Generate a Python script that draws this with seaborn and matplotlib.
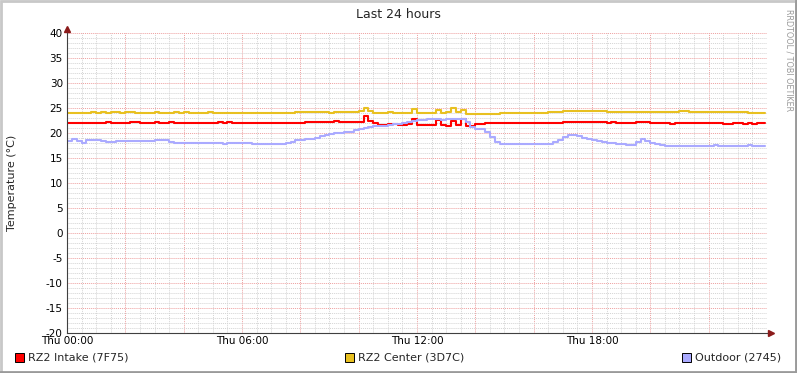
import numpy as np
import pandas as pd
import matplotlib
matplotlib.use("Agg")
import matplotlib.pyplot as plt
from matplotlib.patches import Rectangle
import seaborn as sns

# samples every 10 minutes over 24 hours (Thu 00:00 .. Thu 23:50)
sample_minutes = list(range(0, 1440, 10))

intake = [
    22.0, 22.0, 22.0, 22.0, 22.0, 22.0, 22.0, 22.0, 22.2, 22.0, 22.0, 22.0,
    22.0, 22.2, 22.2, 22.0, 22.0, 22.0, 22.2, 22.0, 22.0, 22.2, 22.0, 22.0,
    22.0, 22.0, 22.0, 22.0, 22.0, 22.0, 22.0, 22.2, 22.0, 22.2, 22.0, 22.0,
    22.0, 22.0, 22.0, 22.0, 22.0, 22.0, 22.0, 22.0, 22.0, 22.0, 22.0, 22.0,
    22.0, 22.2, 22.2, 22.2, 22.2, 22.2, 22.2, 22.4, 22.2, 22.2, 22.2, 22.2,
    22.2, 23.4, 22.5, 22.1, 21.7, 21.7, 21.9, 21.9, 21.7, 21.6, 21.9, 22.8,
    21.7, 21.7, 21.6, 21.7, 22.6, 21.6, 21.5, 22.4, 21.7, 22.8, 21.5, 21.5,
    21.8, 21.8, 22.0, 22.0, 22.0, 22.0, 22.0, 22.0, 22.0, 22.0, 22.0, 22.0,
    22.0, 22.0, 22.0, 22.0, 22.0, 22.0, 22.2, 22.2, 22.2, 22.2, 22.2, 22.2,
    22.2, 22.2, 22.2, 22.0, 22.2, 22.0, 22.0, 22.0, 22.0, 22.2, 22.3, 22.2,
    22.0, 22.0, 22.0, 22.0, 21.8, 22.0, 22.0, 22.0, 22.0, 22.0, 22.0, 22.0,
    22.0, 22.0, 22.0, 21.8, 21.8, 22.0, 22.0, 21.8, 22.0, 21.8, 22.0, 22.0,
]

center = [
    24.0, 24.0, 24.0, 24.0, 24.0, 24.2, 24.0, 24.2, 24.0, 24.2, 24.2, 24.0,
    24.2, 24.2, 24.0, 24.0, 24.0, 24.0, 24.2, 24.0, 24.0, 24.0, 24.2, 24.0,
    24.2, 24.0, 24.0, 24.0, 24.0, 24.2, 24.0, 24.0, 24.0, 24.0, 24.0, 24.0,
    24.0, 24.0, 24.0, 24.0, 24.0, 24.0, 24.0, 24.0, 24.0, 24.0, 24.0, 24.2,
    24.2, 24.2, 24.2, 24.2, 24.2, 24.2, 24.0, 24.2, 24.2, 24.2, 24.2, 24.2,
    24.4, 25.1, 24.4, 24.0, 24.0, 24.0, 24.2, 24.0, 24.0, 24.0, 24.0, 24.9,
    24.1, 24.1, 24.1, 24.1, 24.6, 24.0, 24.2, 25.1, 24.2, 24.6, 23.9, 23.9,
    23.9, 23.9, 23.9, 23.9, 23.9, 24.0, 24.0, 24.0, 24.0, 24.0, 24.0, 24.0,
    24.0, 24.0, 24.1, 24.2, 24.2, 24.2, 24.4, 24.4, 24.4, 24.4, 24.4, 24.4,
    24.4, 24.4, 24.4, 24.2, 24.2, 24.2, 24.2, 24.2, 24.2, 24.2, 24.2, 24.2,
    24.2, 24.2, 24.2, 24.2, 24.2, 24.2, 24.4, 24.4, 24.2, 24.2, 24.2, 24.2,
    24.2, 24.2, 24.2, 24.2, 24.2, 24.2, 24.2, 24.2, 24.0, 24.0, 24.0, 24.0,
]

outdoor = [
    18.5, 18.8, 18.5, 18.1, 18.6, 18.6, 18.6, 18.4, 18.2, 18.2, 18.5, 18.5,
    18.5, 18.5, 18.4, 18.4, 18.4, 18.4, 18.6, 18.6, 18.6, 18.3, 18.1, 18.1,
    18.1, 18.1, 18.1, 18.1, 18.1, 18.1, 18.1, 18.1, 17.9, 18.0, 18.0, 18.0,
    18.0, 18.0, 17.9, 17.9, 17.9, 17.9, 17.8, 17.8, 17.9, 18.1, 18.3, 18.6,
    18.6, 18.8, 18.9, 19.1, 19.5, 19.7, 19.9, 20.0, 20.1, 20.2, 20.3, 20.6,
    20.9, 21.1, 21.3, 21.4, 21.5, 21.5, 21.7, 21.8, 21.9, 22.1, 22.3, 22.4,
    22.6, 22.7, 22.8, 22.8, 22.8, 22.7, 22.8, 22.8, 22.8, 22.8, 22.3, 21.2,
    20.9, 20.8, 20.3, 19.2, 18.2, 17.9, 17.8, 17.8, 17.8, 17.8, 17.8, 17.8,
    17.8, 17.8, 17.8, 17.9, 18.3, 18.7, 19.2, 19.6, 19.6, 19.4, 19.1, 18.8,
    18.7, 18.5, 18.2, 18.1, 18.0, 17.9, 17.8, 17.7, 17.7, 18.3, 18.8, 18.4,
    18.0, 17.8, 17.7, 17.5, 17.4, 17.4, 17.5, 17.5, 17.5, 17.5, 17.5, 17.5,
    17.5, 17.6, 17.5, 17.5, 17.5, 17.5, 17.5, 17.5, 17.7, 17.5, 17.5, 17.5,
]

series_names = ["RZ2 Intake (7F75)", "RZ2 Center (3D7C)", "Outdoor (2745)"]
series_colors = ["#FF0000", "#E8C020", "#AAAAFF"]
time_ticks = [0, 360, 720, 1080]
time_labels = ["Thu 00:00", "Thu 06:00", "Thu 12:00", "Thu 18:00"]

sns.set_style("white")
plt.rcParams["font.family"] = ["DejaVu Sans"]

fig = plt.figure(figsize=(7.97, 3.73), dpi=100)
fig.patch.set_facecolor("white")
ax = fig.add_axes([67 / 797, 40 / 373, 700 / 797, 300 / 373])

for vals, name, col in zip([intake, center, outdoor], series_names, series_colors):
    # extend last step to the right edge
    df = pd.DataFrame({"t": sample_minutes + [1435], "v": vals + [vals[-1]]})
    sns.lineplot(data=df, x="t", y="v", ax=ax, color=col, linewidth=1.5,
                 drawstyle="steps-post", zorder=3)

ax.set_xlim(0, 1440)
ax.set_ylim(-20, 40)
ax.set_xlabel("")
ax.set_ylabel("Temperature (°C)", fontsize=8)
ax.yaxis.set_label_coords(-50 / 700, 0.5)

ax.set_yticks(range(-20, 41, 5))
ax.set_yticklabels([str(v) for v in range(-20, 41, 5)])
ax.set_xticks(time_ticks)
ax.set_xticklabels(time_labels)
ax.tick_params(axis="both", labelsize=7.5, length=0, pad=3, colors="black")
ax.tick_params(axis="x", pad=2)

# grids: minor grey dotted every 30 min / 1 degree, major red dotted every 2 h / 5 degrees
for x in range(0, 1441, 30):
    major = x % 120 == 0
    ax.axvline(x, color="#eea0a0" if major else "#d4d4d4",
               linestyle=(0, (1, 1)), linewidth=0.7, zorder=1)
for y in range(-20, 41, 1):
    major = y % 5 == 0
    ax.axhline(y, color="#eea0a0" if major else "#d4d4d4",
               linestyle=(0, (1, 1)), linewidth=0.7, zorder=1)

for s in ["top", "right"]:
    ax.spines[s].set_visible(False)
for s in ["left", "bottom"]:
    ax.spines[s].set_color("#404040")
    ax.spines[s].set_linewidth(0.8)
    ax.spines[s].set_zorder(4)

# axis arrows
ax.plot([0, 0], [1.0, 1.012], transform=ax.transAxes, color="#404040",
        lw=0.8, clip_on=False)
ax.plot([0], [1.015], marker="^", markersize=4, color="#8B1A1A",
        transform=ax.transAxes, clip_on=False)
ax.plot([1.0, 1.004], [0, 0], transform=ax.transAxes, color="#404040",
        lw=0.8, clip_on=False)
ax.plot([1.006], [0], marker=">", markersize=4, color="#8B1A1A",
        transform=ax.transAxes, clip_on=False)

fig.text(398 / 797, 1 - 14 / 373, "Last 24 hours", ha="center", va="center",
         fontsize=9)
fig.text(789 / 797, 1 - 9 / 373, "RRDTOOL / TOBI OETIKER", rotation=270,
         ha="center", va="top", fontsize=5.8, color="#999999")

# legend: three entries spread across the bottom
legend_x = [15, 345, 682]
for lx, name, col in zip(legend_x, series_names, series_colors):
    fig.patches.append(Rectangle((lx / 797, 1 - 362 / 373), 9 / 797, 9 / 373,
                                 transform=fig.transFigure, facecolor=col,
                                 edgecolor="black", linewidth=0.7))
    fig.text((lx + 13) / 797, 1 - 358 / 373, name, ha="left", va="center",
             fontsize=8)

# frame around the image
fig.patches.append(Rectangle((0.5 / 797, 0.5 / 373), 795.5 / 797, 371.5 / 373,
                             transform=fig.transFigure, fill=False,
                             edgecolor="#c8c8c8", linewidth=2))
fig.lines.append(plt.Line2D([1 - 1 / 797, 1 - 1 / 797], [0, 1],
                            transform=fig.transFigure, color="#9a9a9a", lw=2))
fig.lines.append(plt.Line2D([0, 1], [1 / 373, 1 / 373],
                            transform=fig.transFigure, color="#9a9a9a", lw=2))

fig.savefig("out.png", dpi=100)
